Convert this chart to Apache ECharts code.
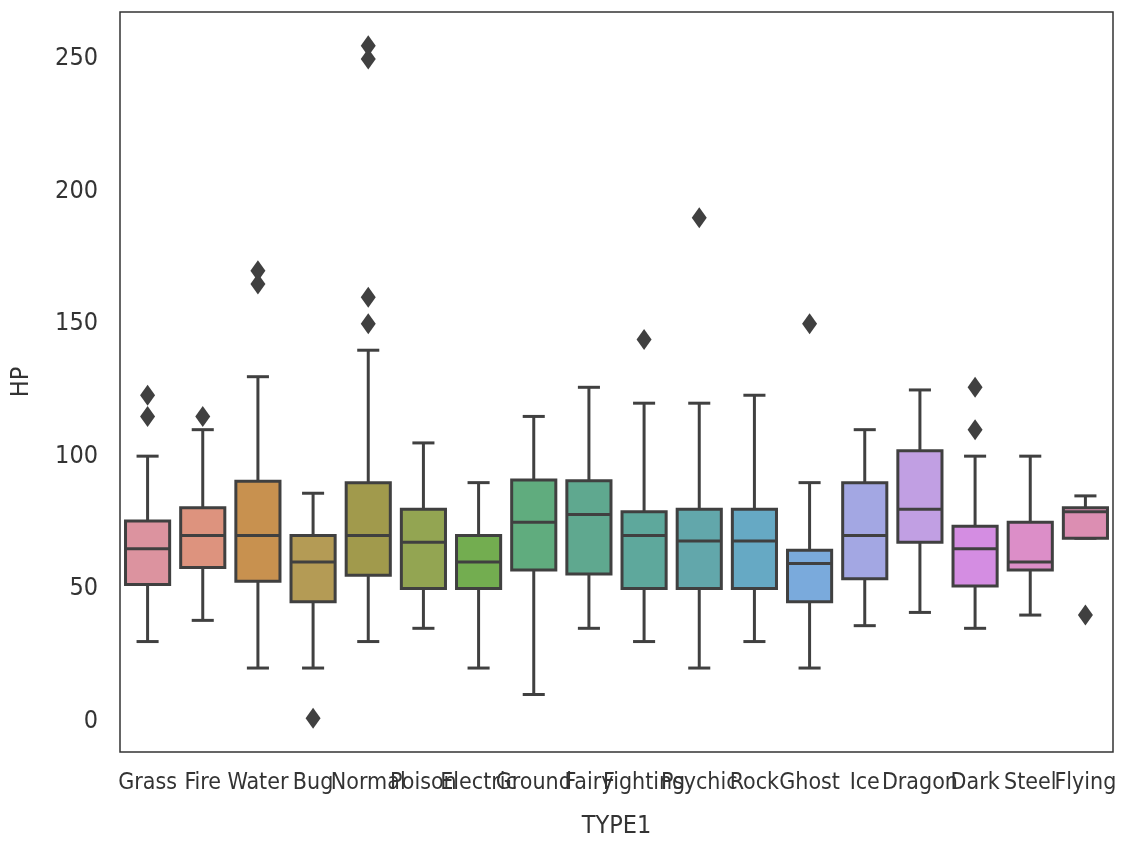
<!DOCTYPE html>
<html>
<head>
<meta charset="utf-8">
<script src="https://cdn.jsdelivr.net/npm/echarts@6/dist/echarts.min.js"></script>
<style>
  html, body { margin: 0; padding: 0; background: #fff; }
  #chart { width: 1134px; height: 854px; }
</style>
</head>
<body>
<div id="chart"></div>
<script>
/* Boxplot — HP by TYPE1 (seaborn look) */
const categories = ['Grass', 'Fire', 'Water', 'Bug', 'Normal', 'Poison', 'Electric', 'Ground', 'Fairy',
  'Fighting', 'Psychic', 'Rock', 'Ghost', 'Ice', 'Dragon', 'Dark', 'Steel', 'Flying'];
const whiskerLow = [30, 38, 20, 20, 30, 35, 20, 10, 35, 30, 20, 30, 20, 36, 41, 35, 40, 69];
const q1 = [51.5, 58, 52.75, 45, 55, 50, 50, 57, 55.5, 50, 50, 50, 45, 53.75, 67.5, 51, 57, 69];
const medians = [65, 70, 70, 60, 70, 67.5, 60, 75, 78, 70, 68, 68, 59.5, 70, 80, 65, 60, 79];
const q3 = [75.5, 80.5, 90.5, 70, 90, 80, 70, 91, 90.75, 79, 80, 80, 64.5, 90, 102, 73.5, 75, 80.5];
const whiskerHigh = [100, 110, 130, 86, 140, 105, 90, 115, 126, 120, 120, 123, 90, 110, 125, 100, 100, 85];
const outliers = [
  [0, 115], [0, 123], [1, 115], [2, 165], [2, 170], [3, 1],
  [4, 150], [4, 160], [4, 250], [4, 255], [9, 144], [10, 190],
  [12, 150], [15, 110], [15, 126], [17, 40]
];
const colors = ['#dc939f', '#dd937e', '#c8914f', '#b49b55', '#a19a4c', '#93a552', '#73ad50', '#60ac7e', '#5fa88f',
  '#5ea89c', '#62a7ab', '#66a9c4', '#7aaadc', '#a3a7e3', '#c19fe3', '#d48de2', '#dc8ec8', '#dc8eb2'];

const lineColor = '#404040';
const font = '"DejaVu Sans Condensed", "Liberation Sans", sans-serif';

const boxData = categories.map((c, i) => [i, whiskerLow[i], q1[i], medians[i], q3[i], whiskerHigh[i]]);

function renderBox(params, api) {
  const i = api.value(0);
  const band = api.size([1, 0])[0];
  const half = band * 0.4;
  const cap = band * 0.2;
  const lo = api.coord([i, api.value(1)]);
  const b1 = api.coord([i, api.value(2)]);
  const md = api.coord([i, api.value(3)]);
  const b3 = api.coord([i, api.value(4)]);
  const hi = api.coord([i, api.value(5)]);
  const x = lo[0];
  const st = { stroke: lineColor, lineWidth: 3, fill: null };
  return {
    type: 'group',
    children: [
      { type: 'line', shape: { x1: x, y1: lo[1], x2: x, y2: b1[1] }, style: st },
      { type: 'line', shape: { x1: x, y1: b3[1], x2: x, y2: hi[1] }, style: st },
      { type: 'line', shape: { x1: x - cap, y1: lo[1], x2: x + cap, y2: lo[1] }, style: st },
      { type: 'line', shape: { x1: x - cap, y1: hi[1], x2: x + cap, y2: hi[1] }, style: st },
      {
        type: 'rect',
        shape: { x: x - half, y: b3[1], width: half * 2, height: b1[1] - b3[1] },
        style: { fill: colors[i], stroke: lineColor, lineWidth: 3 }
      },
      { type: 'line', shape: { x1: x - half, y1: md[1], x2: x + half, y2: md[1] }, style: st }
    ]
  };
}

const chart = echarts.init(document.getElementById('chart'));
chart.setOption({
  backgroundColor: '#fff',
  animation: false,
  grid: {
    left: 120, right: 21, top: 12, bottom: 102, outerBoundsMode: 'none', containLabel: false,
    show: true, borderColor: '#333', borderWidth: 1.5, backgroundColor: 'transparent'
  },
  xAxis: {
    type: 'category', data: categories,
    name: 'TYPE1', nameLocation: 'middle', nameGap: 62,
    nameTextStyle: { color: '#333', fontSize: 25, fontFamily: font },
    axisLine: { show: false }, axisTick: { show: false }, splitLine: { show: false },
    axisLabel: { interval: 0, color: '#333', fontSize: 23, fontFamily: font, margin: 20, hideOverlap: false }
  },
  yAxis: {
    type: 'value', min: -11.7, max: 267.7, minInterval: 50, maxInterval: 50,
    name: 'HP', nameLocation: 'middle', nameGap: 86, nameRotate: 90,
    nameTextStyle: { color: '#333', fontSize: 25, fontFamily: font },
    axisLine: { show: false }, axisTick: { show: false }, splitLine: { show: false },
    axisLabel: {
      color: '#333', fontSize: 25, fontFamily: font, margin: 22,
      formatter: v => (Math.abs(v % 50) < 1e-6 ? String(v) : '')
    }
  },
  series: [
    { type: 'custom', renderItem: renderBox, data: boxData, encode: { x: 0, y: [1, 2, 3, 4, 5] }, z: 2 },
    {
      type: 'scatter', data: outliers, symbol: 'diamond', symbolSize: [15, 21],
      itemStyle: { color: lineColor, opacity: 1 }, z: 3
    }
  ]
});
</script>
</body>
</html>
